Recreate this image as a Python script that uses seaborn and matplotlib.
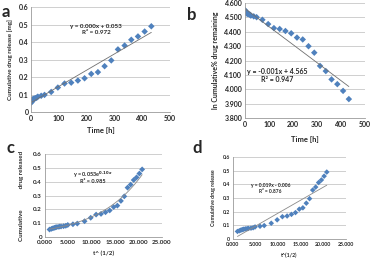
import numpy as np
import seaborn as sns
import matplotlib
matplotlib.use("Agg")
import matplotlib.pyplot as plt
from matplotlib.ticker import FormatStrFormatter

# release data
time_h = [1, 2, 3, 4, 5, 6, 8, 10, 12, 16, 20, 24, 36, 48, 72, 96, 120, 144,
          168, 192, 216, 240, 264, 288, 312, 336, 360, 384, 408, 432]
release_mg = [0.055, 0.060, 0.064, 0.067, 0.070, 0.072, 0.074, 0.076, 0.077,
              0.079, 0.082, 0.088, 0.093, 0.098, 0.115, 0.140, 0.163, 0.168,
              0.180, 0.193, 0.218, 0.228, 0.262, 0.295, 0.358, 0.380, 0.413,
              0.432, 0.460, 0.490]
ln_remaining = [4.549, 4.543, 4.539, 4.536, 4.533, 4.531, 4.528, 4.526, 4.525,
                4.523, 4.520, 4.513, 4.508, 4.502, 4.484, 4.454, 4.426, 4.420,
                4.406, 4.390, 4.360, 4.347, 4.300, 4.255, 4.163, 4.127, 4.069,
                4.036, 3.989, 3.932]
sqrt_t = [1.000, 1.414, 1.732, 2.000, 2.236, 2.449, 2.828, 3.162, 3.464, 4.000,
          4.472, 4.899, 6.000, 6.928, 8.485, 9.798, 10.954, 12.000, 12.961,
          13.856, 14.697, 15.492, 16.248, 16.971, 17.664, 18.330, 18.974,
          19.596, 20.199, 20.785]
frac_ticks = [0, 0.1, 0.2, 0.3, 0.4, 0.5, 0.6]
frac_labels = ["0", "0.1", "0.2", "0.3", "0.4", "0.5", "0.6"]

blue = "#4F81BD"
sns.set_theme(style="white")
plt.rcParams["font.family"] = ["Lato", "DejaVu Sans"]
plt.rcParams["font.weight"] = "bold"
plt.rcParams["axes.labelweight"] = "bold"

fig = plt.figure(figsize=(3.8, 2.6), dpi=100)


def style_axes(ax, fs):
    ax.grid(axis="y", color="#c8c8c8", linewidth=0.6)
    ax.set_axisbelow(True)
    for s in ["top", "right"]:
        ax.spines[s].set_visible(False)
    for s in ["left", "bottom"]:
        ax.spines[s].set_color("#9a9a9a")
        ax.spines[s].set_linewidth(0.6)
    ax.tick_params(axis="both", labelsize=fs, length=0, pad=2)


# panel a
ax = fig.add_axes([0.082, 0.569, 0.366, 0.404])
sns.regplot(x=time_h, y=release_mg, ax=ax, scatter=False, ci=None,
            line_kws=dict(color="#707070", lw=0.6))
sns.scatterplot(x=time_h, y=release_mg, ax=ax, marker="D", s=11, color=blue,
                edgecolor="none")
ax.set_xlim(0, 500)
ax.set_ylim(0, 0.6)
ax.set_xticks([0, 100, 200, 300, 400, 500])
ax.set_yticks(frac_ticks)
ax.set_yticklabels(frac_labels)
style_axes(ax, 5)
ax.set_ylabel("Cumulative drug release [mg]", fontsize=4.5, labelpad=4)
ax.set_xlabel("Time [h]", fontsize=5.5, labelpad=4)
ax.text(234, 0.48, "y = 0.000x + 0.053", fontsize=4.5, ha="center")
ax.text(234, 0.445, "R² = 0.972", fontsize=4.5, ha="center")

# panel b
ax = fig.add_axes([0.645, 0.546, 0.316, 0.442])
sns.regplot(x=time_h, y=ln_remaining, ax=ax, scatter=False, ci=None,
            line_kws=dict(color="#707070", lw=0.6))
sns.scatterplot(x=time_h, y=ln_remaining, ax=ax, marker="D", s=11, color=blue,
                edgecolor="none")
ax.set_xlim(0, 500)
ax.set_ylim(3.8, 4.6)
ax.set_xticks([0, 100, 200, 300, 400, 500])
ax.set_yticks([3.8, 3.9, 4.0, 4.1, 4.2, 4.3, 4.4, 4.5, 4.6])
ax.yaxis.set_major_formatter(FormatStrFormatter("%.3f"))
style_axes(ax, 5)
ax.set_ylabel("ln Cumulative% drug remaining", fontsize=5, labelpad=4)
ax.set_xlabel("Time [h]", fontsize=5.5, labelpad=6)
ax.text(133, 4.11, "y = -0.001x + 4.565", fontsize=5, ha="center")
ax.text(133, 4.05, "R² = 0.947", fontsize=5, ha="center")

# panel c
ax = fig.add_axes([0.118, 0.088, 0.308, 0.319])
coef = np.polyfit(sqrt_t, np.log(release_mg), 1)
xs = np.linspace(min(sqrt_t), max(sqrt_t), 100)
sns.lineplot(x=xs, y=np.exp(np.polyval(coef, xs)), ax=ax, color="#8a8a8a",
             lw=0.6)
sns.scatterplot(x=sqrt_t, y=release_mg, ax=ax, marker="D", s=9, color=blue,
                edgecolor="none")
ax.set_xlim(0, 25)
ax.set_ylim(0, 0.6)
ax.set_xticks([0, 5, 10, 15, 20, 25])
ax.xaxis.set_major_formatter(FormatStrFormatter("%.3f"))
ax.set_yticks(frac_ticks)
ax.set_yticklabels(frac_labels)
style_axes(ax, 4.5)
ax.set_ylabel("Cumulative              drug released", fontsize=4.5, labelpad=7)
ax.set_xlabel("t^ (1/2)", fontsize=4.5, labelpad=4)
ax.text(10.3, 0.435, "y = 0.053e$^{0.10x}$", fontsize=4, ha="center")
ax.text(10.3, 0.39, "R² = 0.985", fontsize=4, ha="center")

# panel d
ax = fig.add_axes([0.613, 0.081, 0.297, 0.315])
sns.regplot(x=sqrt_t, y=release_mg, ax=ax, scatter=False, ci=None,
            line_kws=dict(color="#8a8a8a", lw=0.6))
sns.scatterplot(x=sqrt_t, y=release_mg, ax=ax, marker="D", s=8, color=blue,
                edgecolor="none")
ax.set_xlim(0, 25)
ax.set_ylim(0, 0.6)
ax.set_xticks([0, 5, 10, 15, 20, 25])
ax.xaxis.set_major_formatter(FormatStrFormatter("%.3f"))
ax.set_yticks(frac_ticks)
ax.set_yticklabels(frac_labels)
style_axes(ax, 3.8)
ax.set_ylabel("Cumulative drug release", fontsize=3.8, labelpad=5)
ax.set_xlabel("t^(1/2)", fontsize=3.8, labelpad=4)
ax.text(8.3, 0.38, "y = 0.019x - 0.006", fontsize=3.5, ha="center")
ax.text(8.3, 0.335, "R² = 0.876", fontsize=3.5, ha="center")

# panel letters
for x, y, letter in [(0.003, 0.985, "a"), (0.493, 0.975, "b"),
                     (0.018, 0.46, "c"), (0.505, 0.46, "d")]:
    fig.text(x, y, letter, fontsize=12, fontweight="bold", va="top")

fig.savefig("out.png", dpi=100)
